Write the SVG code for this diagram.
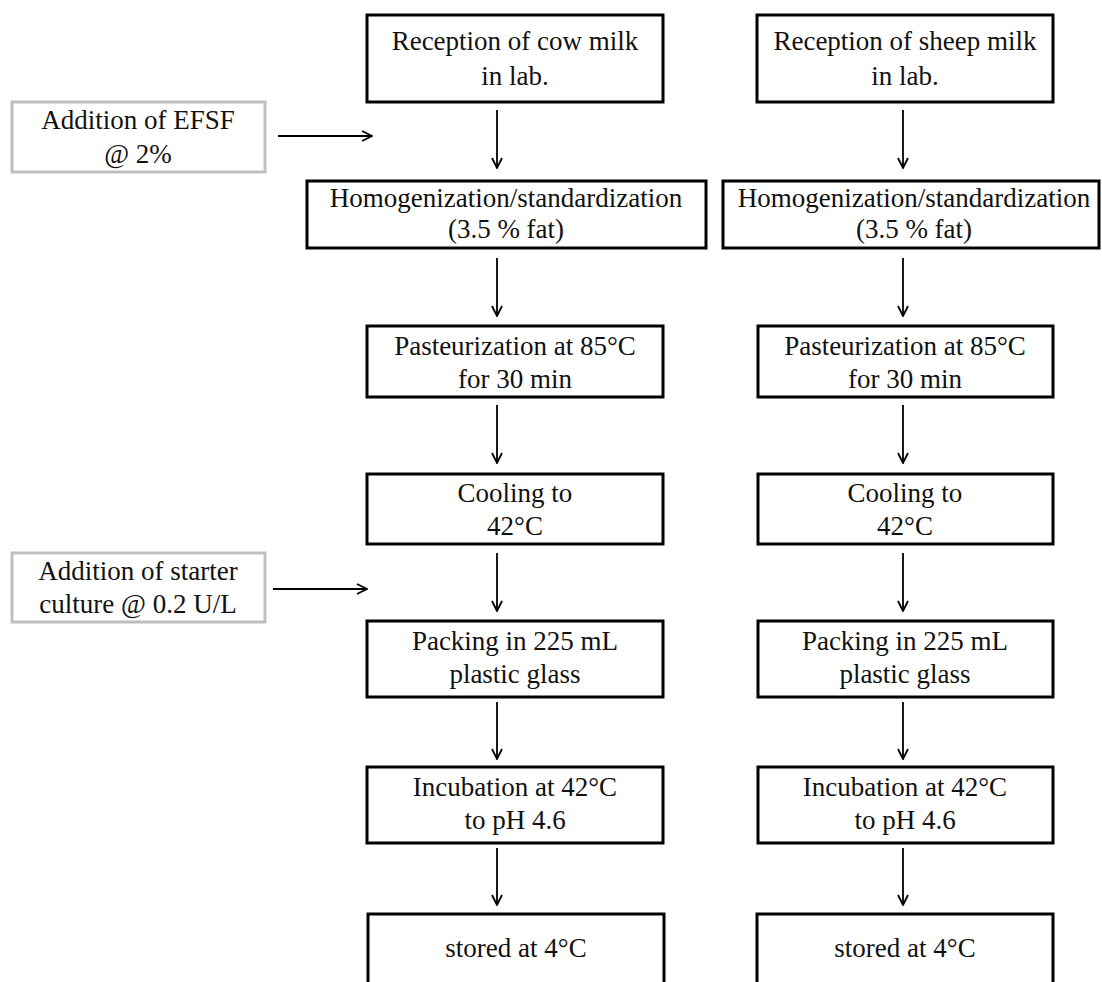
<svg xmlns="http://www.w3.org/2000/svg" width="1102" height="982" viewBox="0 0 1102 982">
<defs>
<marker id="ah" viewBox="0 0 12 12" refX="11" refY="6" markerWidth="12" markerHeight="12" markerUnits="userSpaceOnUse" orient="auto">
<path d="M1,1 L11,6 L1,11" fill="none" stroke="#000" stroke-width="1.8"/>
</marker>
<style>
.b{fill:#fff;stroke:#000;stroke-width:3}
.g{fill:#fff;stroke:#bfbfbf;stroke-width:3}
.t{font-family:"Liberation Serif","Times New Roman",serif;font-size:27px;fill:#111;text-anchor:middle}
.c{stroke:#000;stroke-width:1.8;fill:none;marker-end:url(#ah)}
</style>
</defs>
<rect width="1102" height="982" fill="#fff"/>
<g id="connectors">
<line class="c" x1="278" y1="136" x2="372" y2="136"/>
<line class="c" x1="273" y1="589" x2="367" y2="589"/>
<line class="c" x1="497" y1="110" x2="497" y2="168"/>
<line class="c" x1="497" y1="258" x2="497" y2="316"/>
<line class="c" x1="497" y1="405" x2="497" y2="463"/>
<line class="c" x1="497" y1="553" x2="497" y2="611"/>
<line class="c" x1="497" y1="702" x2="497" y2="759"/>
<line class="c" x1="497" y1="848" x2="497" y2="905"/>
<line class="c" x1="903" y1="110" x2="903" y2="168"/>
<line class="c" x1="903" y1="258" x2="903" y2="316"/>
<line class="c" x1="903" y1="405" x2="903" y2="463"/>
<line class="c" x1="903" y1="553" x2="903" y2="611"/>
<line class="c" x1="903" y1="702" x2="903" y2="759"/>
<line class="c" x1="903" y1="848" x2="903" y2="905"/>
</g>
<g id="efsf"><rect class="g" x="12" y="102" width="253" height="70"/><text class="t" x="138" y="129">Addition of EFSF</text><text class="t" x="138" y="163">@ 2%</text></g>
<g id="starter"><rect class="g" x="12" y="553" width="253" height="69"/><text class="t" x="138" y="580">Addition of starter</text><text class="t" x="138" y="613">culture @ 0.2 U/L</text></g>
<g id="cow1"><rect class="b" x="367" y="15" width="296" height="87"/><text class="t" x="515" y="50">Reception of cow milk</text><text class="t" x="515" y="85">in lab.</text></g>
<g id="cow2"><rect class="b" x="307" y="181" width="399" height="67"/><text class="t" x="506" y="207">Homogenization/standardization</text><text class="t" x="506" y="238">(3.5 % fat)</text></g>
<g id="cow3"><rect class="b" x="367" y="326" width="296" height="71"/><text class="t" x="515" y="355">Pasteurization at 85°C</text><text class="t" x="515" y="388">for 30 min</text></g>
<g id="cow4"><rect class="b" x="367" y="474" width="296" height="70"/><text class="t" x="515" y="502">Cooling to</text><text class="t" x="515" y="535">42°C</text></g>
<g id="cow5"><rect class="b" x="367" y="621" width="296" height="76"/><text class="t" x="515" y="650">Packing in 225 mL</text><text class="t" x="515" y="683">plastic glass</text></g>
<g id="cow6"><rect class="b" x="367" y="767" width="296" height="76"/><text class="t" x="515" y="796">Incubation at 42°C</text><text class="t" x="515" y="829">to pH 4.6</text></g>
<g id="cow7"><rect class="b" x="368" y="914" width="296" height="80"/><text class="t" x="516" y="957">stored at 4°C</text></g>
<g id="sheep1"><rect class="b" x="757" y="15" width="296" height="87"/><text class="t" x="905" y="50">Reception of sheep milk</text><text class="t" x="905" y="85">in lab.</text></g>
<g id="sheep2"><rect class="b" x="723" y="181" width="376" height="67"/><text class="t" x="914" y="207">Homogenization/standardization</text><text class="t" x="914" y="238">(3.5 % fat)</text></g>
<g id="sheep3"><rect class="b" x="758" y="326" width="295" height="71"/><text class="t" x="905" y="355">Pasteurization at 85°C</text><text class="t" x="905" y="388">for 30 min</text></g>
<g id="sheep4"><rect class="b" x="758" y="474" width="295" height="70"/><text class="t" x="905" y="502">Cooling to</text><text class="t" x="905" y="535">42°C</text></g>
<g id="sheep5"><rect class="b" x="758" y="621" width="295" height="76"/><text class="t" x="905" y="650">Packing in 225 mL</text><text class="t" x="905" y="683">plastic glass</text></g>
<g id="sheep6"><rect class="b" x="758" y="767" width="295" height="76"/><text class="t" x="905" y="796">Incubation at 42°C</text><text class="t" x="905" y="829">to pH 4.6</text></g>
<g id="sheep7"><rect class="b" x="757" y="914" width="296" height="80"/><text class="t" x="905" y="957">stored at 4°C</text></g>
</svg>
